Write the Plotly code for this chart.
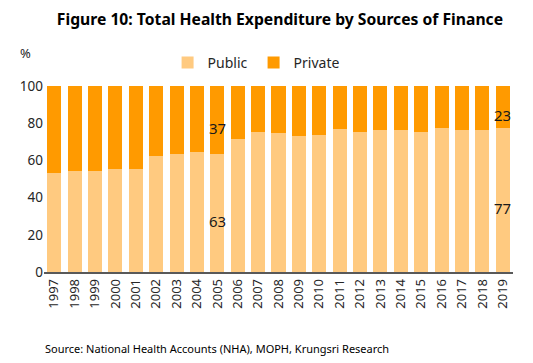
import plotly.graph_objects as go

years = [str(y) for y in range(1997, 2020)]
public = [53.3, 54.4, 54.4, 55.5, 55.5, 62.5, 63.5, 64.6, 63.4, 71.6, 75.4, 74.8,
          73.2, 73.8, 77.0, 75.4, 76.4, 76.4, 75.4, 77.5, 76.4, 76.4, 77.4]
private = [round(100 - p, 1) for p in public]
label_years = ["2005", "2019"]

PUB = "#FFCA80"
PRI = "#FF9A00"
FONT = "Noto Sans"

fig = go.Figure()
fig.add_bar(x=years, y=public, name="Public", marker_color=PUB, marker_line_width=0)
fig.add_bar(x=years, y=private, name="Private", marker_color=PRI, marker_line_width=0)

annotations = []
for yr in label_years:
    i = years.index(yr)
    annotations.append(dict(x=i, y=public[i] / 2, text=f"{public[i]:.0f}", showarrow=False,
                            yshift=-8, font=dict(size=15, color="#1a1a1a", family=FONT)))
    annotations.append(dict(x=i, y=public[i] + private[i] / 2, text=f"{private[i]:.0f}",
                            showarrow=False, yshift=-8,
                            font=dict(size=15, color="#1a1a1a", family=FONT)))
annotations.append(dict(xref="paper", yref="paper", x=-0.04, y=1.18, text="%", showarrow=False,
                        xanchor="center", yanchor="middle",
                        font=dict(size=13, color="#262626", family=FONT)))
annotations.append(dict(xref="paper", yref="paper", x=-0.002, y=-0.41,
                        text="Source: National Health Accounts (NHA), MOPH, Krungsri Research",
                        showarrow=False, xanchor="left", yanchor="middle",
                        font=dict(size=11, color="#000000", family=FONT)))

fig.update_layout(
    width=525, height=355,
    margin=dict(l=36, r=20, t=78, b=91, autoexpand=False),
    paper_bgcolor="white", plot_bgcolor="white",
    barmode="stack", bargap=0.31,
    title=dict(text="<b>Figure 10: Total Health Expenditure by Sources of Finance</b>",
               x=0.518, xref="container", xanchor="center", y=0.967, yanchor="middle",
               font=dict(size=15.7, color="#000000", family=FONT)),
    legend=dict(orientation="h", x=0.2635, y=1.124, xanchor="left", yanchor="middle",
                font=dict(size=14, color="#262626", family=FONT), itemwidth=30,
                entrywidth=41, entrywidthmode="pixels",
                traceorder="normal", bgcolor="rgba(0,0,0,0)"),
    showlegend=True,
    annotations=annotations,
    xaxis=dict(type="category", range=[-0.5, len(years) - 0.5], tickangle=-90, showline=True,
               linecolor="#595959", linewidth=1.5, automargin=False,
               ticks="", tickfont=dict(size=13, color="#262626", family=FONT), showgrid=False),
    yaxis=dict(range=[0, 100], dtick=20, showgrid=False, showline=False, ticks="",
               automargin=False,
               tickfont=dict(size=13.5, color="#262626", family=FONT), zeroline=False),
)

fig.write_html("out.html")
